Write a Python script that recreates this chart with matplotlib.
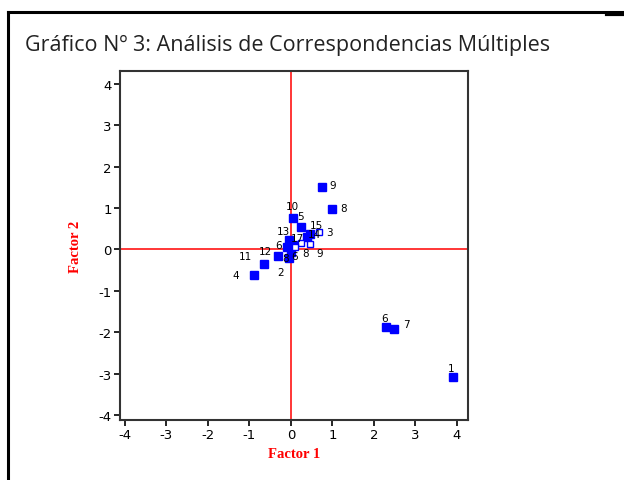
import numpy as np
import matplotlib.pyplot as plt
from matplotlib.lines import Line2D

plt.rcParams['axes.unicode_minus'] = False

# filled squares (categorias)
lab_a = ['1', '2', '4', '6', '7', '8', '9', '10', '11', '12', '5', '15', '14', '13', '17', '6', '8']
fx_a = [3.90, -0.05, -0.89, 2.29, 2.48, 0.99, 0.75, 0.04, -0.65, -0.31, 0.24, 0.45, 0.40, -0.05, 0.05, -0.10, 0.00]
fy_a = [-3.09, -0.20, -0.62, -1.88, -1.93, 0.97, 1.50, 0.77, -0.36, -0.15, 0.55, 0.38, 0.30, 0.22, 0.10, 0.05, -0.05]

# hollow squares
lab_b = ['3', '9', '8', '6']
fx_b = [0.67, 0.45, 0.25, 0.10]
fy_b = [0.41, 0.12, 0.15, 0.05]

# label offsets in points (dx, dy)
off_a = [(-1, 7), (-6, -10), (-13, 0), (-1, 7), (9, 4), (8, 1), (8, 2), (0, 8),
         (-13, 6), (-9, 3), (0, 8), (5, 6), (5, 2), (-4, 7), (3, 5), (-6, 2), (-4, -5)]
off_b = [(8, 0), (7, -6), (3, -7), (0, -6)]

fig = plt.figure(figsize=(6.24, 4.81), dpi=100)
ax = fig.add_axes([120/624, 1-421/481, 348/624, 349/481])

ax.axvline(0, color='red', lw=1.1, zorder=1)
ax.axhline(0, color='red', lw=1.1, zorder=1)

ax.plot(fx_a, fy_a, 's', color='#0000ff', ms=6.3, mec='#0000ff', zorder=3, lw=0)
ax.plot(fx_b, fy_b, 's', mfc='white', mec='#0000ff', mew=1.0, ms=5, zorder=4, lw=0)

for t, x, y, o in zip(lab_a, fx_a, fy_a, off_a):
    ax.annotate(t, (x, y), xytext=o, textcoords='offset points', fontsize=7.5,
                ha='center', va='center', color='black', zorder=5)
for t, x, y, o in zip(lab_b, fx_b, fy_b, off_b):
    ax.annotate(t, (x, y), xytext=o, textcoords='offset points', fontsize=7.5,
                ha='center', va='center', color='black', zorder=5)

ax.set_xlim(-4.12, 4.27)
ax.set_ylim(-4.12, 4.31)
ax.set_xticks(np.arange(-4, 5))
ax.set_yticks(np.arange(-4, 5))
ax.tick_params(labelsize=9.5, length=4, width=1.2, direction='out', colors='black', pad=2)
for s in ax.spines.values():
    s.set_linewidth(1.5)
    s.set_color('#333333')

ax.set_xlabel('Factor 1', color='red', fontsize=10.5, fontweight='bold',
              family='Liberation Serif', labelpad=4)
ax.set_ylabel('Factor 2', color='red', fontsize=10.5, fontweight='bold',
              family='Liberation Serif', labelpad=12)

fig.text(25/624, 1-45/481, 'Gráfico Nº 3: Análisis de Correspondencias Múltiples',
         fontsize=15.5, family='Open Sans', color='#222222', va='center', ha='left')

# marco
fig.add_artist(Line2D([8/624, 8/624], [0, 1-13/481], color='black', lw=2.2, transform=fig.transFigure))
fig.add_artist(Line2D([8/624, 1], [1-13/481, 1-13/481], color='black', lw=2.2, transform=fig.transFigure))
fig.add_artist(Line2D([607/624, 1], [1-15/481, 1-15/481], color='black', lw=3, transform=fig.transFigure))

plt.savefig('out.png', dpi=100)
